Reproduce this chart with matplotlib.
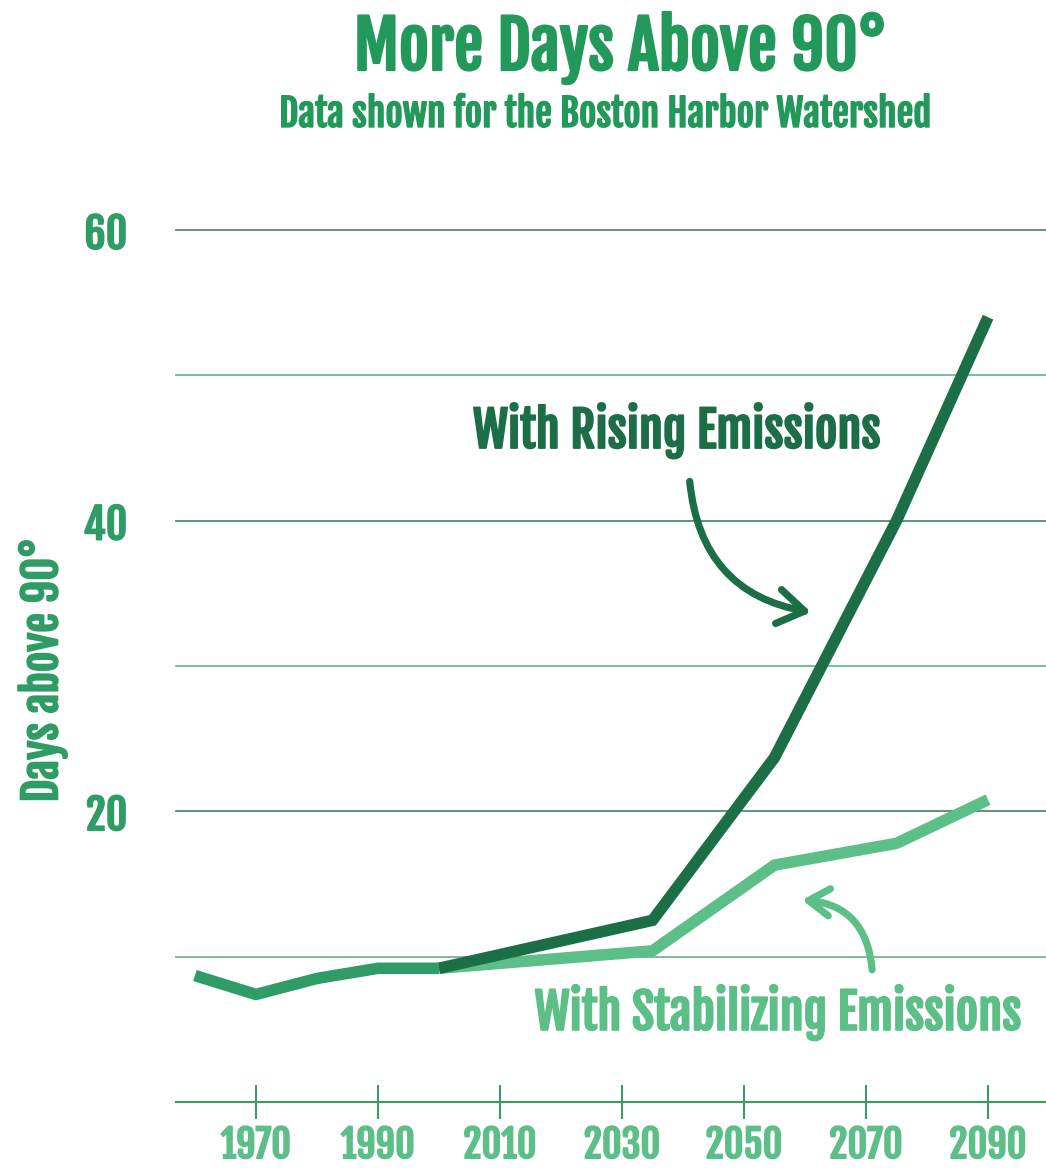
import matplotlib
matplotlib.use("Agg")
import matplotlib.pyplot as plt
from matplotlib import font_manager as fm
import matplotlib.patheffects as pe

# ---------------- data ----------------
hist_years = [1960, 1970, 1980, 1990, 2000]
hist_days = [8.7, 7.4, 8.5, 9.2, 9.2]
proj_years = [2000, 2035, 2055, 2075, 2090]
rising_days = [9.2, 12.5, 23.7, 40.0, 54.0]
stab_days = [9.2, 10.4, 16.3, 17.8, 20.8]
x_ticks = [1970, 1990, 2010, 2030, 2050, 2070, 2090]
y_ticks = [20, 40, 60]
grid_levels = [10, 20, 30, 40, 50, 60]

title = "More Days Above 90°"
subtitle = "Data shown for the Boston Harbor Watershed"
ylabel = "Days above 90°"
label_rising = "With Rising Emissions"
label_stab = "With Stabilizing Emissions"

# ---------------- font ----------------
def pick_font():
    fl = fm.fontManager.ttflist
    found = [f for f in fl if f.name == "Fjalla One"]
    if found:
        return fm.FontProperties(fname=found[0].fname)
    cands = [f for f in fl if f.name == "Roboto Condensed" and f.weight == 700 and f.style == "normal" and "[" not in f.fname]
    if cands:
        return fm.FontProperties(fname=cands[0].fname)
    return fm.FontProperties(family="DejaVu Sans", weight="bold")

FP = pick_font()
def fp(size):
    p = FP.copy()
    p.set_size(size)
    return p

def bold(color, w=1.1):
    return [pe.withStroke(linewidth=w, foreground=color)]

C_TITLE = "#22995A"
C_MID = "#2E9C64"
C_DARK = "#1B6E45"
C_LIGHT = "#5BBF87"
C_GRID_A = "#4E8F6B"
C_GRID_B = "#72B892"
C_AXIS = "#3F9A68"

W, H = 1046, 1171
fig = plt.figure(figsize=(W / 100, H / 100), dpi=100)
fig.patch.set_facecolor("white")

ax = fig.add_axes([176 / W, (H - 1102) / H, (1046 - 176) / W, (1102 - 230) / H])
ax.set_xlim(1956.9, 2099.5)
ax.set_ylim(0, 60)
for s in ("top", "right", "left"):
    ax.spines[s].set_visible(False)
ax.spines["bottom"].set_color(C_AXIS)
ax.spines["bottom"].set_linewidth(1.6)

for lvl in grid_levels:
    ax.axhline(lvl, color=C_GRID_A if lvl % 20 == 0 else C_GRID_B, lw=1.3, zorder=1, clip_on=False)

ax.set_xticks(x_ticks)
ax.set_xticklabels([str(v) for v in x_ticks], fontproperties=fp(27.5), color=C_LIGHT)
ax.tick_params(axis="x", direction="inout", length=24, width=1.5, color=C_AXIS, pad=4)
for t in ax.get_xticklabels():
    t.set_path_effects(bold(C_LIGHT))
ax.set_yticks(y_ticks)
ax.set_yticklabels([str(v) for v in y_ticks], fontproperties=fp(30), color=C_MID)
ax.tick_params(axis="y", length=0, pad=35)
for t in ax.get_yticklabels():
    t.set_path_effects(bold(C_MID))

lw = 8.3
ax.plot(proj_years, stab_days, color=C_LIGHT, lw=lw, solid_capstyle="butt", solid_joinstyle="miter", zorder=3, clip_on=False)
ax.plot(proj_years, rising_days, color=C_DARK, lw=lw, solid_capstyle="butt", solid_joinstyle="miter", zorder=4, clip_on=False)
ax.plot(hist_years, hist_days, color=C_MID, lw=lw, solid_capstyle="butt", solid_joinstyle="miter", zorder=5, clip_on=False)

ax.text(2005.6, 45.0, label_rising, fontproperties=fp(35), color=C_DARK, ha="left", va="baseline",
        path_effects=bold(C_DARK, 1.3))
ax.text(2015.7, 4.96, label_stab, fontproperties=fp(35), color=C_LIGHT, ha="left", va="baseline",
        path_effects=bold(C_LIGHT, 1.3))

ax.annotate("", xy=(2061.0, 33.7), xytext=(2041.1, 42.7),
            arrowprops=dict(arrowstyle="->,head_length=1.0,head_width=0.65", connectionstyle="arc3,rad=0.38",
                            mutation_scale=19, color=C_DARK, lw=5.2, shrinkA=0, shrinkB=0,
                            capstyle="round", joinstyle="round"))
ax.annotate("", xy=(2059.5, 13.9), xytext=(2071.0, 9.1),
            arrowprops=dict(arrowstyle="->,head_length=1.0,head_width=0.65", connectionstyle="arc3,rad=0.42",
                            mutation_scale=15, color=C_LIGHT, lw=5.2, shrinkA=0, shrinkB=0,
                            capstyle="round", joinstyle="round"))

fig.text(620 / W, 1 - 70 / H, title, fontproperties=fp(47), color=C_TITLE, ha="center", va="baseline",
         path_effects=bold(C_TITLE, 1.6))
fig.text(606 / W, 1 - 127 / H, subtitle, fontproperties=fp(27), color=C_TITLE, ha="center", va="baseline",
         path_effects=bold(C_TITLE, 1.0))
fig.text(43 / W, 1 - 670 / H, ylabel, fontproperties=fp(32), color=C_MID, ha="center", va="center", rotation=90,
         path_effects=bold(C_MID, 1.2))

fig.savefig("out.png", dpi=100, facecolor="white")
